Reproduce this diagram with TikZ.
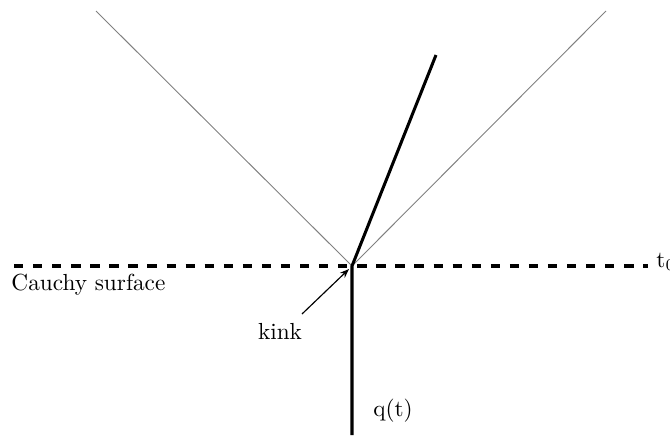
\documentclass[tikz,border=0pt]{standalone}
\usetikzlibrary{arrows.meta}
\begin{document}
\begin{tikzpicture}[x=0.43pt,y=-0.43pt,
  cone/.style={gray,line width=0.4pt},
  worldline/.style={line width=1.3pt},
  surface/.style={line width=1.6pt,dash pattern=on 4pt off 4.2pt},
  lbl/.style={inner sep=0pt,font=\normalsize}]
\useasboundingbox (0,0) rectangle (670,435);
\coordinate (k) at (352,266);
\coordinate (cl) at (96,11);
\coordinate (cr) at (606,11);
\coordinate (top) at (436,55);
\coordinate (bot) at (352,435);
\coordinate (sl) at (14,266);
\coordinate (sr) at (648,266);
\draw[cone] (cl) -- (k) -- (cr);
\draw[surface] (sl) -- (sr);
\draw[worldline] (bot) -- (k) -- (top);
\node[lbl,anchor=west] (t0) at (656,262) {t$_0$};
\node[lbl,anchor=west] (cs) at (11,285) {Cauchy surface};
\node[lbl] (kink) at (280,331) {kink};
\coordinate (kt) at (349,269);
\draw[-{Stealth[length=4pt,width=3pt]},line width=0.5pt] (302,314) -- (kt);
\node[lbl] (q) at (393,411) {q(t)};
\end{tikzpicture}
\end{document}
